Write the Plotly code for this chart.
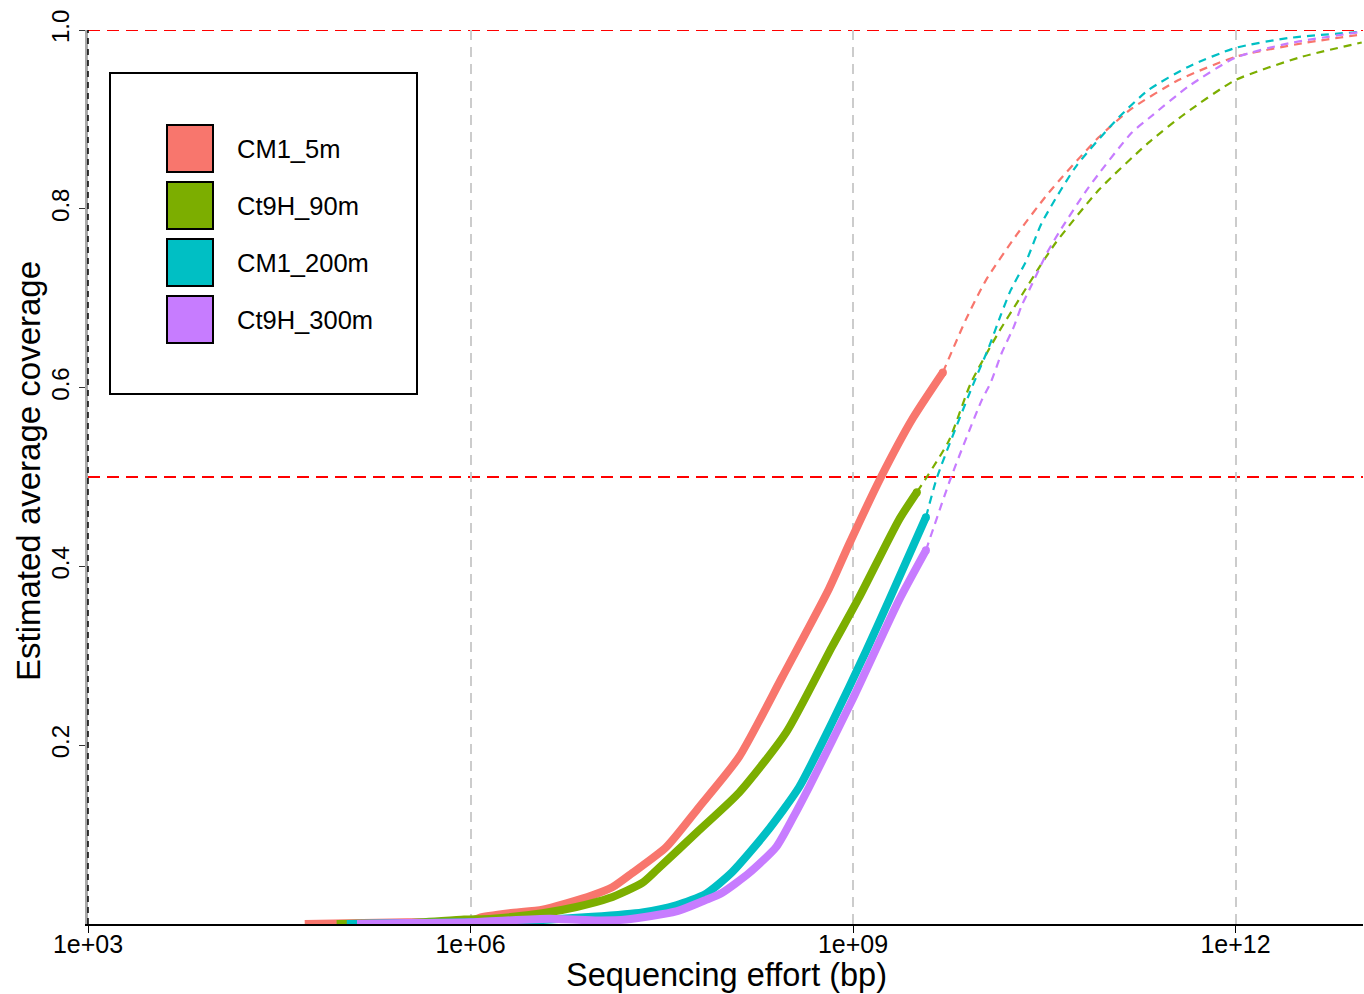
import plotly.graph_objects as go

# ---------------- data ----------------
samples = ["CM1_5m", "Ct9H_90m", "CM1_200m", "Ct9H_300m"]
colors = ["#F8766D", "#7CAE00", "#00BFC4", "#C77CFF"]

# log10(sequencing effort, bp) and estimated average coverage
# observed (interpolated) part -> thick solid lines
cm1_5m_obs_log = [4.70, 5.5, 6.0, 6.07, 6.305, 6.564, 6.752, 6.956, 7.112, 7.269, 7.535, 7.794, 8.107, 8.444, 8.812, 8.97, 9.22, 9.47, 9.705]
cm1_5m_obs_cov = [0.0, 0.002, 0.003, 0.007, 0.012, 0.016, 0.023, 0.032, 0.041, 0.057, 0.086, 0.131, 0.187, 0.276, 0.375, 0.425, 0.50, 0.566, 0.617]
ct9h_90m_obs_log = [4.95, 5.5, 5.95, 6.17, 6.564, 6.83, 7.089, 7.347, 7.457, 7.794, 8.107, 8.475, 8.835, 9.047, 9.36, 9.501]
ct9h_90m_obs_cov = [0.0, 0.001, 0.005, 0.006, 0.012, 0.019, 0.029, 0.046, 0.060, 0.105, 0.147, 0.214, 0.31, 0.365, 0.452, 0.483]
cm1_200m_obs_log = [5.03, 5.5, 6.0, 6.5, 6.956, 7.347, 7.613, 7.848, 8.052, 8.318, 8.577, 8.835, 9.102, 9.282, 9.572]
cm1_200m_obs_cov = [0.0, 0.001, 0.002, 0.004, 0.008, 0.013, 0.021, 0.034, 0.058, 0.102, 0.153, 0.225, 0.305, 0.362, 0.455]
ct9h_300m_obs_log = [5.11, 5.5, 6.0, 6.62, 7.0, 7.222, 7.613, 7.848, 7.974, 8.185, 8.397, 8.522, 8.655, 8.992, 9.36, 9.572]
ct9h_300m_obs_cov = [0.0, 0.001, 0.002, 0.006, 0.004, 0.005, 0.014, 0.027, 0.035, 0.057, 0.086, 0.117, 0.153, 0.25, 0.362, 0.418]

# extrapolated part -> thin dashed lines
cm1_5m_ext_log = [9.705, 9.885, 10.042, 10.284, 10.535, 10.927, 11.185, 11.553, 12.0, 12.52, 12.99]
cm1_5m_ext_cov = [0.617, 0.676, 0.72, 0.771, 0.818, 0.880, 0.912, 0.944, 0.970, 0.985, 0.995]
ct9h_90m_ext_log = [9.501, 9.75, 9.924, 10.143, 10.3, 10.472, 10.59, 10.927, 11.318, 11.6, 12.0, 12.52, 12.99]
ct9h_90m_ext_cov = [0.483, 0.54, 0.605, 0.662, 0.698, 0.737, 0.762, 0.821, 0.874, 0.906, 0.944, 0.970, 0.986]
cm1_200m_ext_log = [9.572, 9.66, 9.932, 10.065, 10.159, 10.237, 10.363, 10.48, 10.747, 11.083, 11.318, 11.632, 12.0, 12.415, 12.99]
cm1_200m_ext_cov = [0.455, 0.50, 0.600, 0.645, 0.681, 0.709, 0.743, 0.784, 0.847, 0.902, 0.933, 0.959, 0.980, 0.991, 0.998]
ct9h_300m_ext_log = [9.572, 9.77, 10.01, 10.081, 10.167, 10.261, 10.324, 10.402, 10.519, 10.613, 10.848, 11.185, 11.318, 11.632, 12.0, 12.415, 12.99]
ct9h_300m_ext_cov = [0.418, 0.5, 0.586, 0.606, 0.639, 0.668, 0.692, 0.715, 0.750, 0.773, 0.824, 0.885, 0.901, 0.937, 0.969, 0.985, 0.998]

obs_log = [cm1_5m_obs_log, ct9h_90m_obs_log, cm1_200m_obs_log, ct9h_300m_obs_log]
obs_cov = [cm1_5m_obs_cov, ct9h_90m_obs_cov, cm1_200m_obs_cov, ct9h_300m_obs_cov]
ext_log = [cm1_5m_ext_log, ct9h_90m_ext_log, cm1_200m_ext_log, ct9h_300m_ext_log]
ext_cov = [cm1_5m_ext_cov, ct9h_90m_ext_cov, cm1_200m_ext_cov, ct9h_300m_ext_cov]

x_tickvals = [1e3, 1e6, 1e9, 1e12]
x_ticktext = ["1e+03", "1e+06", "1e+09", "1e+12"]
y_tickvals = [0.2, 0.4, 0.6, 0.8, 1.0]
y_ticktext = ["0.2", "0.4", "0.6", "0.8", "1.0"]
ref_levels = [0.5, 1.0]
x_title = "Sequencing effort (bp)"
y_title = "Estimated average coverage"

FONT = "Liberation Sans, Arial, sans-serif"

fig = go.Figure()

# dashed extrapolations
for name, col, lx, cv in zip(samples, colors, ext_log, ext_cov):
    fig.add_trace(go.Scatter(x=[10 ** v for v in lx], y=cv, mode="lines",
                             line=dict(color=col, width=2.2, dash="8px,6px", shape="spline", smoothing=0.6),
                             showlegend=False, hoverinfo="skip"))
# thick observed parts
for name, col, lx, cv in zip(samples, colors, obs_log, obs_cov):
    fig.add_trace(go.Scatter(x=[10 ** v for v in lx], y=cv, mode="lines",
                             line=dict(color=col, width=8, shape="spline", smoothing=0.6),
                             name=name, showlegend=False))
    fig.add_trace(go.Scatter(x=[10 ** lx[-1]], y=[cv[-1]], mode="markers",
                             marker=dict(color=col, size=8),
                             showlegend=False, hoverinfo="skip"))

# reference lines
for lv in ref_levels:
    fig.add_hline(y=lv, line=dict(color="#FF0000", width=2, dash="12px,7px"), layer="below")

# left axis black dashed overlay
fig.add_shape(type="line", xref="x domain", yref="y domain", x0=0, x1=0, y0=0, y1=1,
              line=dict(color="black", width=1.5, dash="6px,5px"), layer="above")

# pixel helpers for the plot frame (plot area: x 88..1363, y 30..924)
L_PX, T_PX, PW, PH = 88, 30, 1275, 894
def px_x(p):
    return (p - L_PX) / PW
def px_y(p):
    return (T_PX + PH - p) / PH

# custom legend box
fig.add_shape(type="rect", xref="paper", yref="paper",
              x0=px_x(110), x1=px_x(417), y0=px_y(394), y1=px_y(73),
              line=dict(color="black", width=2), fillcolor="white", layer="above")
for i, (name, col) in enumerate(zip(samples, colors)):
    top = 125 + 57 * i
    fig.add_shape(type="rect", xref="paper", yref="paper",
                  x0=px_x(167), x1=px_x(213), y0=px_y(top + 47), y1=px_y(top),
                  line=dict(color="black", width=2), fillcolor=col, layer="above")
    fig.add_annotation(xref="paper", yref="paper", x=px_x(235), y=px_y(top + 24),
                       text=name, showarrow=False, xanchor="left", yanchor="middle",
                       font=dict(family=FONT, size=25.5, color="black"))

# axis titles
fig.add_annotation(xref="paper", yref="paper", x=px_x(726), y=px_y(975),
                   text=x_title, showarrow=False, xanchor="center", yanchor="middle",
                   font=dict(family=FONT, size=32.5, color="black"))
fig.add_annotation(xref="paper", yref="paper", x=px_x(28), y=px_y(471),
                   text=y_title, showarrow=False, xanchor="center", yanchor="middle",
                   textangle=-90, font=dict(family=FONT, size=33, color="black"))

fig.update_layout(
    width=1364, height=994,
    margin=dict(l=88, r=1, t=30, b=70),
    plot_bgcolor="white", paper_bgcolor="white",
    font=dict(family=FONT, color="black"),
    showlegend=False,
    xaxis=dict(type="log", range=[3, 13], tickvals=x_tickvals, ticktext=x_ticktext,
               automargin=False,
               showgrid=True, gridcolor="#CCCCCC", gridwidth=2, griddash="10px,7px",
               zeroline=False, showline=True, linecolor="black", linewidth=2,
               ticks="outside", ticklen=7, tickcolor="black", tickwidth=1,
               ticklabelstandoff=-10,
               tickfont=dict(size=25, color="black")),
    yaxis=dict(range=[0, 1], tickvals=y_tickvals, ticktext=y_ticktext, tickangle=-90,
               automargin=False,
               showgrid=False, zeroline=False, showline=True, linecolor="#A8A8A8", linewidth=3,
               ticks="outside", ticklen=6, tickcolor="#333333", tickwidth=1,
               tickfont=dict(size=24, color="black")),
)

fig.write_html("out.html", config={"displayModeBar": False},
               post_script="document.body.style.margin='0';document.body.style.overflow='hidden';")
